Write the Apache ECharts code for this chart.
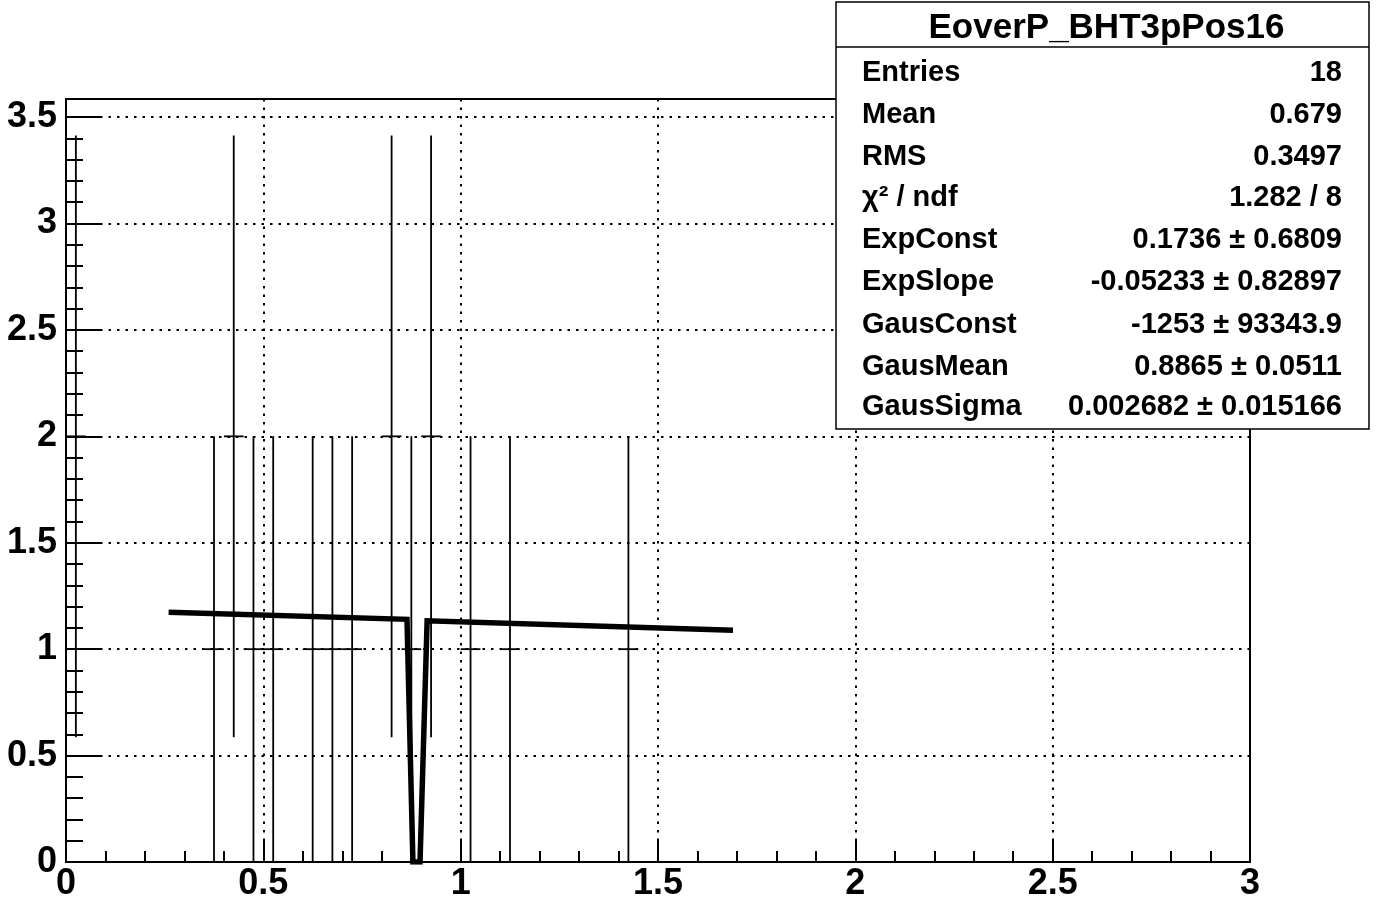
<!DOCTYPE html>
<html>
<head>
<meta charset="utf-8">
<script src="https://cdn.jsdelivr.net/npm/echarts@6/dist/echarts.min.js"></script>
<style>html,body{margin:0;padding:0;background:#fff}#c{width:1378px;height:900px}</style>
</head>
<body>
<div id="c"></div>
<script>
// ---- data ----
const binWidth = 0.05;
const binCenters = [0.025, 0.375, 0.425, 0.475, 0.525, 0.625, 0.675, 0.725, 0.825, 0.875, 0.925, 1.025, 1.125, 1.425];
const counts     = [2,     1,     2,     1,     1,     1,     1,     1,     2,     1,     2,     1,     1,     1];
const errors     = [1.414, 1,     1.414, 1,     1,     1,     1,     1,     1.414, 1,     1.414, 1,     1,     1];
const fitX = [0.26, 0.864, 0.879, 0.897, 0.915, 1.69];
const fitY = [1.173, 1.140, 0.0, 0.0, 1.133, 1.089];
const xTicks = [0, 0.5, 1, 1.5, 2, 2.5, 3];
const yTicks = [0, 0.5, 1, 1.5, 2, 2.5, 3, 3.5];
const yMax = 3.585;
const statsTitle = 'EoverP_BHT3pPos16';
const statsLabels = ['Entries', 'Mean', 'RMS', 'χ² / ndf', 'ExpConst', 'ExpSlope', 'GausConst', 'GausMean', 'GausSigma'];
const statsValues = ['18', '0.679', '0.3497', '1.282 / 8', '0.1736 ± 0.6809', '-0.05233 ± 0.82897', '-1253 ± 93343.9', '0.8865 ± 0.0511', '0.002682 ± 0.015166'];

const FONT = '"Liberation Sans", Arial, Helvetica, sans-serif';
const chart = echarts.init(document.getElementById('c'), null, {renderer: 'canvas'});

const histData = binCenters.map((x, i) => [x, counts[i], errors[i]]);
const fitData = fitX.map((x, i) => [x, fitY[i]]);

const dotted = {color: '#000', width: 2, type: [2.5, 6]};

const statsGraphics = [];
const boxL = 836, boxT = 2, boxW = 533, boxH = 427;
statsGraphics.push({type: 'rect', shape: {x: boxL, y: boxT, width: boxW, height: boxH},
  style: {fill: '#fff', stroke: '#000', lineWidth: 1.5}, z: 100});
statsGraphics.push({type: 'line', shape: {x1: boxL, y1: 47, x2: boxL + boxW, y2: 47},
  style: {stroke: '#000', lineWidth: 1.5}, z: 101});
statsGraphics.push({type: 'text', x: boxL + boxW / 2 + 4, y: 28, z: 101,
  style: {text: statsTitle, font: 'bold 35px ' + FONT, fill: '#000', textAlign: 'center', textVerticalAlign: 'middle'}});
const rowY = [73, 115, 157, 198, 240, 282, 325, 367, 407];
statsLabels.forEach((lab, i) => {
  statsGraphics.push({type: 'text', x: 862, y: rowY[i], z: 101,
    style: {text: lab, font: 'bold 29px ' + FONT, fill: '#000', textAlign: 'left', textVerticalAlign: 'middle'}});
  statsGraphics.push({type: 'text', x: 1342, y: rowY[i], z: 101,
    style: {text: statsValues[i], font: 'bold 29px ' + FONT, fill: '#000', textAlign: 'right', textVerticalAlign: 'middle'}});
});

chart.setOption({
  animation: false,
  backgroundColor: '#fff',
  grid: {left: 66, right: 128, top: 99, bottom: 38, show: true, borderColor: '#000', borderWidth: 2,
    backgroundColor: 'transparent', containLabel: false, outerBoundsMode: 'none'},
  xAxis: [{
    type: 'value', min: xTicks[0], max: xTicks[xTicks.length - 1], interval: 0.5,
    axisLine: {show: true, onZero: false, lineStyle: {color: '#000', width: 2}},
    axisTick: {show: true, inside: true, length: 22, lineStyle: {color: '#000', width: 2}},
    minorTick: {show: true, splitNumber: 5, length: 11, lineStyle: {color: '#000', width: 2}},
    axisLabel: {color: '#000', fontFamily: FONT, fontWeight: 'bold', fontSize: 36, margin: 4,
      formatter: v => String(v)},
    splitLine: {show: true, lineStyle: dotted}
  }],
  yAxis: [{
    type: 'value', min: yTicks[0], max: yMax, interval: 0.5,
    axisLine: {show: true, onZero: false, lineStyle: {color: '#000', width: 2}},
    axisTick: {show: true, inside: true, length: 34, lineStyle: {color: '#000', width: 2}},
    minorTick: {show: false},
    axisLabel: {color: '#000', fontFamily: FONT, fontWeight: 'bold', fontSize: 36, margin: 9, showMaxLabel: false,
      formatter: v => String(v)},
    splitLine: {show: true, lineStyle: dotted}
  }, {
    type: 'value', min: yTicks[0], max: yMax, interval: 0.1, position: 'left',
    axisLine: {show: false},
    axisTick: {show: true, inside: true, length: 17, lineStyle: {color: '#000', width: 2}},
    axisLabel: {show: false},
    splitLine: {show: false}
  }],
  series: [{
    type: 'custom',
    xAxisIndex: 0, yAxisIndex: 0,
    data: histData,
    clip: true,
    renderItem: function (params, api) {
      const x = api.value(0), y = api.value(1), e = api.value(2);
      const pLo = api.coord([x, y - e]);
      const pHi = api.coord([x, y + e]);
      const pL = api.coord([x - binWidth / 2, y]);
      const pR = api.coord([x + binWidth / 2, y]);
      const st = {stroke: '#000', lineWidth: 1.8};
      return {type: 'group', children: [
        {type: 'line', shape: {x1: pLo[0], y1: pLo[1], x2: pHi[0], y2: pHi[1]}, style: st},
        {type: 'line', shape: {x1: pL[0], y1: pL[1], x2: pR[0], y2: pR[1]}, style: st}
      ]};
    },
    z: 3
  }, {
    type: 'line',
    xAxisIndex: 0, yAxisIndex: 0,
    data: fitData,
    showSymbol: false,
    clip: true,
    lineStyle: {color: '#000', width: 5.5, cap: 'butt', join: 'miter'},
    z: 4
  }],
  graphic: statsGraphics
});
</script>
</body>
</html>
